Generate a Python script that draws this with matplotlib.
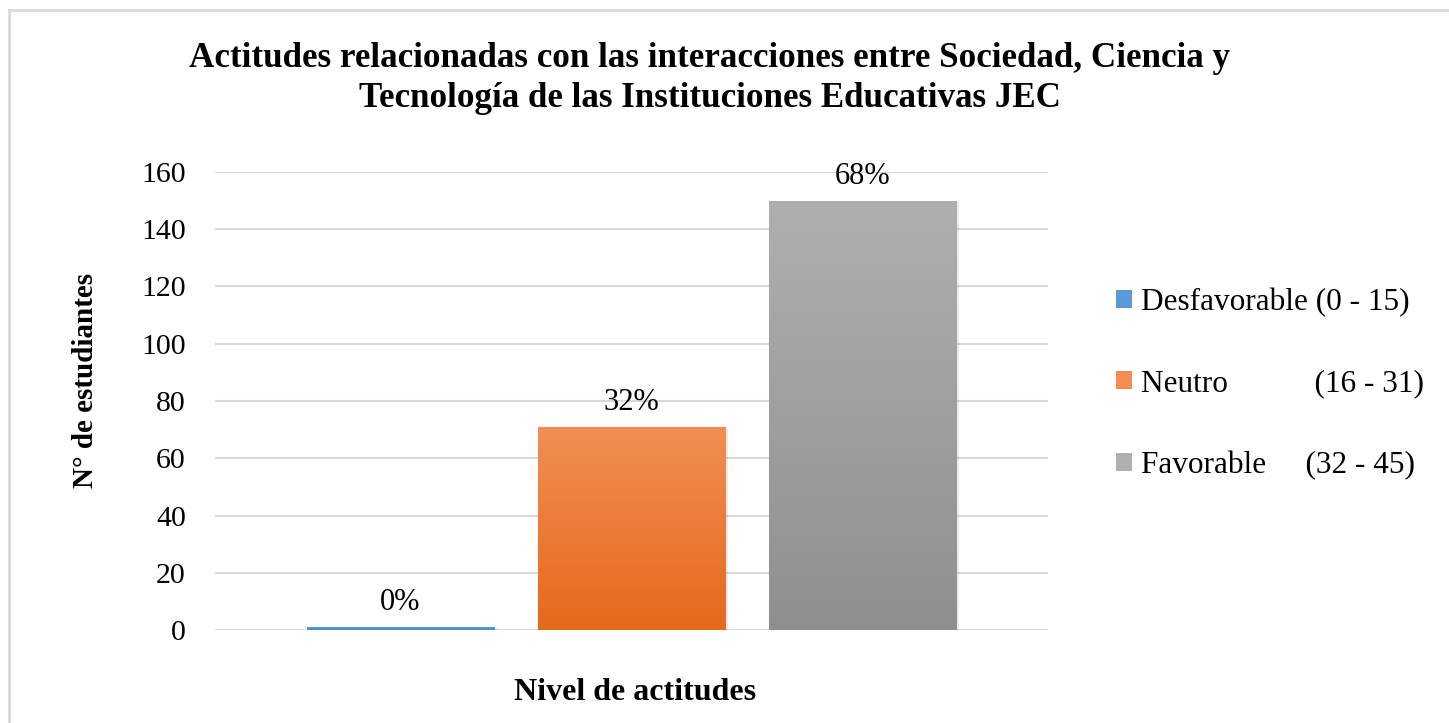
from matplotlib import pyplot as plt
from matplotlib.patches import Patch
from matplotlib.lines import Line2D
from matplotlib.colors import LinearSegmentedColormap
import numpy as np

# Data
categorias = ["Desfavorable", "Neutro", "Favorable"]
rangos = ["(0 - 15)", "(16 - 31)", "(32 - 45)"]
estudiantes = [1, 71, 150]
y_ticks = [0, 20, 40, 60, 80, 100, 120, 140, 160]

titulo = ("Actitudes relacionadas con las interacciones entre Sociedad, Ciencia y\n"
          "Tecnología de las Instituciones Educativas JEC")
x_label = "Nivel de actitudes"
y_label = "N° de estudiantes"

# gradient colours (top, bottom) per series
colores = [("#5B9BD5", "#4A8BCB"), ("#F28E54", "#E5691B"), ("#AFAFAF", "#8F8F8F")]
# spaces so the ranges line up like in the original legend
etiquetas = [categorias[0] + " " + rangos[0],
             categorias[1] + " " * 11 + rangos[1],
             categorias[2] + " " * 5 + rangos[2]]

plt.rcParams['font.family'] = ['Liberation Serif', 'DejaVu Serif']

fig = plt.figure(figsize=(14.49, 7.23), dpi=100)
ax = fig.add_axes([215 / 1449, 1 - 630 / 723, 833 / 1449, 458 / 723])

x = np.arange(len(categorias))
bars = ax.bar(x, estudiantes, width=0.81, color="none", zorder=3)
for bar, (c_top, c_bot) in zip(bars, colores):
    x0, y0 = bar.get_x(), bar.get_y()
    w, h = bar.get_width(), bar.get_height()
    grad = np.linspace(0, 1, 256).reshape(-1, 1)
    cmap = LinearSegmentedColormap.from_list("g", [c_bot, c_top])
    im = ax.imshow(grad, cmap=cmap, aspect="auto", origin="lower",
                   extent=[x0, x0 + w, y0, y0 + h], zorder=3)
    im.set_clip_path(bar)
    # soft shadow on the right side
    ax.bar(x0 + w / 2 + 0.012, h, width=w, bottom=y0 - 0.4, color="#000000",
           alpha=0.08, zorder=2)

total = sum(estudiantes)
for xi, v in zip(x, estudiantes):
    ax.annotate("%d%%" % round(v / total * 100), (xi, v), xytext=(0, 7),
                textcoords="offset points", ha="center", va="bottom", fontsize=22)

ax.set_xlim(-0.803, 2.803)
ax.set_ylim(0, 160)
ax.set_yticks(y_ticks)
ax.set_xticks([])
ax.tick_params(axis="y", length=0, labelsize=21.5, pad=21)
ax.yaxis.grid(True, color="#D9D9D9", linewidth=1.5, zorder=0)
ax.set_axisbelow(True)
for s in ax.spines.values():
    s.set_visible(False)

fig.text(0.49, 0.892, titulo, ha="center", va="center", fontsize=25.2,
         fontweight="bold", linespacing=1.28)
fig.text(0.0587, 0.474, y_label, ha="center", va="center", rotation=90,
         fontsize=21, fontweight="bold")
fig.text(0.438, 0.0415, x_label, ha="center", va="center", fontsize=23,
         fontweight="bold")

handles = [Patch(facecolor=c_top, edgecolor="none") for c_top, c_bot in colores]
leg = fig.legend(handles, etiquetas, loc="center left", bbox_to_anchor=(0.751, 0.469),
                 frameon=False, fontsize=22.5, handlelength=0.5, handleheight=0.5,
                 handletextpad=0.3, labelspacing=1.68)

# light frame of the chart area (left and top edges visible)
fig.add_artist(Line2D([9 / 1449, 9 / 1449], [0, 1 - 10 / 723], transform=fig.transFigure,
                      color="#D9D9D9", linewidth=2))
fig.add_artist(Line2D([9 / 1449, 1], [1 - 10 / 723, 1 - 10 / 723], transform=fig.transFigure,
                      color="#D9D9D9", linewidth=2))

plt.savefig("out.png", dpi=100)
